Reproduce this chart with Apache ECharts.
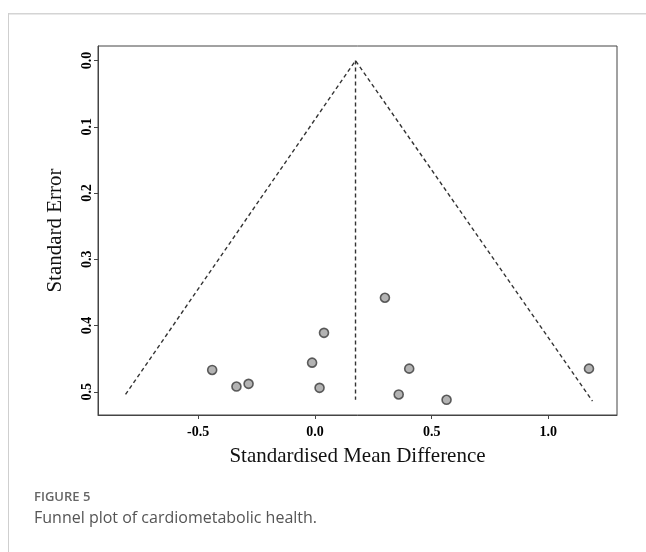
<!DOCTYPE html>
<html>
<head>
<meta charset="utf-8">
<title>Funnel plot</title>
<script src="https://cdn.jsdelivr.net/npm/echarts@6/dist/echarts.min.js"></script>
<style>
    html, body { margin: 0; padding: 0; background: #fff; }
    #funnel_chart { width: 646px; height: 552px; }
</style>
</head>
<body>
<div id="funnel_chart"></div>
<script>
// 研究点：标准化均数差 / 标准误
var smd = [-0.440, -0.336, -0.284, 0.039, -0.012, 0.020, 0.300, 0.404, 0.359, 0.564, 1.174];
var se  = [0.467, 0.492, 0.488, 0.411, 0.456, 0.494, 0.358, 0.465, 0.504, 0.512, 0.465];

// 漏斗线
var meanSmd = 0.174;
var funnelX = [-0.811, 0.174, 1.189];
var funnelY = [0.504, 0, 0.514];
var centerY = [0, 0.512];

// 刻度
var xTicks = [-0.5, 0.0, 0.5, 1.0];
var yTicks = [0.0, 0.1, 0.2, 0.3, 0.4, 0.5];

$init();

function $init(){
    var myChart = echarts.init(document.getElementById('funnel_chart'));

    var points = [];
    for (var i = 0; i < smd.length; i++) {
        points.push([smd[i], se[i]]);
    }
    var funnel = [];
    for (var j = 0; j < funnelX.length; j++) {
        funnel.push([funnelX[j], funnelY[j]]);
    }
    var center = [[meanSmd, centerY[0]], [meanSmd, centerY[1]]];

    var serif = 'Liberation Serif';

    var option = {
        animation: false,
        grid: {
            left: 98,
            top: 46,
            width: 519,
            height: 369,
            show: true,
            borderColor: '#444',
            borderWidth: 1
        },
        xAxis: {
            type: 'value',
            min: -0.929,
            max: 1.294,
            splitLine: { show: false },
            axisLine: { show: true, onZero: false, lineStyle: { color: '#444', width: 1 } },
            axisTick: { show: true, length: 4, customValues: xTicks, lineStyle: { color: '#444' } },
            axisLabel: {
                customValues: xTicks,
                margin: 10,
                color: '#000',
                fontFamily: serif,
                fontWeight: 'bold',
                fontSize: 14,
                formatter: function (v) { return v.toFixed(1); }
            },
            name: 'Standardised Mean Difference',
            nameLocation: 'middle',
            nameGap: 31,
            nameTextStyle: { fontFamily: serif, fontSize: 21, color: '#111' }
        },
        yAxis: {
            type: 'value',
            inverse: true,
            min: -0.022,
            max: 0.535,
            splitLine: { show: false },
            axisLine: { show: true, onZero: false, lineStyle: { color: '#444', width: 1 } },
            axisTick: { show: true, length: 4, customValues: yTicks, lineStyle: { color: '#444' } },
            axisLabel: {
                customValues: yTicks,
                rotate: 90,
                margin: 4,
                color: '#000',
                fontFamily: serif,
                fontWeight: 'bold',
                fontSize: 14,
                formatter: function (v) { return v.toFixed(1); }
            },
            name: 'Standard Error',
            nameLocation: 'middle',
            nameGap: 32,
            nameTextStyle: { fontFamily: serif, fontSize: 21, color: '#111' }
        },
        series: [
            {
                name: 'funnel',
                type: 'line',
                data: funnel,
                symbol: 'none',
                silent: true,
                lineStyle: { color: '#333', width: 1.4, type: [4, 3] }
            },
            {
                name: 'center',
                type: 'line',
                data: center,
                symbol: 'none',
                silent: true,
                lineStyle: { color: '#333', width: 1.4, type: [4, 3] }
            },
            {
                name: 'studies',
                type: 'scatter',
                data: points,
                symbol: 'circle',
                symbolSize: 9,
                itemStyle: {
                    color: '#a0a0a0',
                    borderColor: '#3a3a3a',
                    borderWidth: 1.6
                }
            }
        ],
        graphic: [
            { type: 'rect', shape: { x: 9, y: 13, width: 637, height: 1.5 }, style: { fill: '#d4d4d4' } },
            { type: 'rect', shape: { x: 8, y: 13, width: 1, height: 539 }, style: { fill: '#cfcfcf' } },
            {
                type: 'text', left: 34, top: 491,
                style: { text: 'FIGURE 5', fill: '#666', font: '600 13px "Open Sans"' }
            },
            {
                type: 'text', left: 34, top: 510,
                style: { text: 'Funnel plot of cardiometabolic health.', fill: '#555', font: '16px "Open Sans"' }
            }
        ]
    };

    myChart.setOption(option);
}
</script>
</body>
</html>
